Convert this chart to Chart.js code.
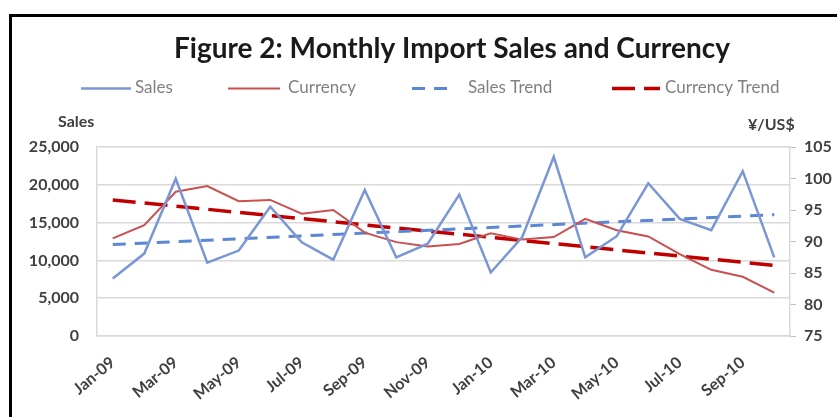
<!DOCTYPE html>
<html>
<head>
<meta charset="utf-8">
<script src="https://cdn.jsdelivr.net/npm/chart.js@4"></script>
<style>
  html, body { margin: 0; padding: 0; background: #fff; }
  #wrap { position: relative; width: 837px; height: 417px; overflow: hidden; }
  #frame { position: absolute; left: 9px; top: 14px; right: -5px; bottom: -5px;
           border-top: 3px solid #000; border-left: 3px solid #000; pointer-events: none; }
  canvas { position: absolute; left: 0; top: 0; }
</style>
</head>
<body>
<div id="wrap">
  <canvas id="chart" width="837" height="417"></canvas>
  <div id="frame"></div>
</div>
<script>
// Monthly data, Jan-09 .. Oct-10
const months = ['Jan-09','Feb-09','Mar-09','Apr-09','May-09','Jun-09','Jul-09','Aug-09','Sep-09','Oct-09','Nov-09','Dec-09',
                'Jan-10','Feb-10','Mar-10','Apr-10','May-10','Jun-10','Jul-10','Aug-10','Sep-10','Oct-10'];

const sales = [7600, 10900, 20800, 9700, 11300, 17100, 12400, 10100, 19300, 10400, 12200, 18700,
               8400, 13100, 23700, 10400, 13200, 20200, 15500, 14000, 21800, 10400];

const currency = [90.5, 92.6, 97.9, 98.8, 96.4, 96.6, 94.4, 95.0, 91.4, 89.9, 89.2, 89.6,
                  91.3, 90.3, 90.7, 93.6, 91.8, 90.8, 88.0, 85.5, 84.4, 81.9];

// trend lines: only the end points are read, the line joins them
const salesTrend = [12100, null, null, null, null, null, null, null, null, null, null, null,
                    null, null, null, null, null, null, null, null, null, 16050];
const currencyTrend = [96.6, null, null, null, null, null, null, null, null, null, null, null,
                       null, null, null, null, null, null, null, null, null, 86.2];

const TITLE = 'Figure 2: Monthly Import Sales and Currency';
const FONT = 'Lato, "Open Sans", sans-serif';
const TXT = '#404040';

// legend slots: where each sample line starts/ends and where its text begins
const legendSlots = [[81, 131, 135], [228, 280, 288], [412, 450, 468], [612, 660, 665]];

// title, legend and the two horizontal axis titles, placed like the spreadsheet did
const decorations = {
  id: 'decorations',
  afterDraw(chart) {
    const { ctx } = chart;
    ctx.save();
    ctx.textBaseline = 'middle';

    ctx.font = `bold 28px ${FONT}`;
    ctx.fillStyle = '#1a1a1a';
    ctx.textAlign = 'center';
    ctx.fillText(TITLE, 452, 49);

    ctx.textAlign = 'left';
    ctx.font = `17px ${FONT}`;
    chart.data.datasets.forEach((ds, i) => {
      const [x0, x1, tx] = legendSlots[i];
      ctx.beginPath();
      ctx.setLineDash(ds.borderDash || []);
      ctx.lineWidth = ds.borderWidth;
      ctx.strokeStyle = ds.borderColor;
      ctx.moveTo(x0, 88.5);
      ctx.lineTo(x1, 88.5);
      ctx.stroke();
      ctx.setLineDash([]);
      ctx.fillStyle = '#808080';
      ctx.fillText(ds.label, tx, 88);
    });

    ctx.font = `bold 16px ${FONT}`;
    ctx.fillStyle = TXT;
    ctx.fillText('Sales', 58, 122);
    ctx.fillText('¥/US$', 748, 125);
    ctx.restore();
  }
};

new Chart(document.getElementById('chart'), {
  type: 'line',
  data: {
    labels: months,
    datasets: [
      { label: 'Sales', data: sales, yAxisID: 'y', borderColor: '#7a96d4', borderWidth: 2.5,
        pointRadius: 0, tension: 0 },
      { label: 'Currency', data: currency, yAxisID: 'y1', borderColor: '#c9504e', borderWidth: 2,
        pointRadius: 0, tension: 0 },
      { label: 'Sales Trend', data: salesTrend, yAxisID: 'y', borderColor: '#5b87d4', borderWidth: 3,
        borderDash: [13, 9], pointRadius: 0, spanGaps: true },
      { label: 'Currency Trend', data: currencyTrend, yAxisID: 'y1', borderColor: '#c00000', borderWidth: 3.5,
        borderDash: [23, 9], pointRadius: 0, spanGaps: true },
    ],
  },
  options: {
    responsive: false,
    animation: false,
    layout: { padding: { top: 147, left: 0, right: 0, bottom: 0 } },
    plugins: {
      title: { display: false },
      legend: { display: false },
      tooltip: { enabled: false },
    },
    scales: {
      x: {
        offset: true,
        grid: { display: false },
        border: { color: '#d9d9d9', width: 1.5 },
        afterFit: s => { s.height = 81; },
        ticks: {
          autoSkip: false,
          maxRotation: 40,
          minRotation: 40,
          padding: 9,
          color: TXT,
          font: { family: FONT, size: 16, weight: 'bold' },
          callback: (v, i) => (i % 2 === 0 ? months[i] : ''),
        },
      },
      y: {
        position: 'left',
        min: 0,
        max: 25000,
        grid: { color: '#d9d9d9', lineWidth: 1.5, drawTicks: false },
        border: { color: '#d9d9d9', width: 1.5 },
        afterFit: s => { s.width = 97; },
        ticks: {
          stepSize: 5000,
          padding: 18,
          color: TXT,
          font: { family: FONT, size: 16, weight: 'bold' },
          callback: v => v.toLocaleString('en-US'),
        },
      },
      y1: {
        position: 'right',
        min: 75,
        max: 105,
        grid: { drawOnChartArea: false, color: '#bfbfbf', tickLength: 6 },
        border: { color: '#d9d9d9', width: 1.5 },
        afterFit: s => { s.width = 47; },
        ticks: {
          stepSize: 5,
          padding: 8,
          color: TXT,
          font: { family: FONT, size: 16, weight: 'bold' },
        },
      },
    },
  },
  plugins: [decorations],
});
</script>
</body>
</html>
